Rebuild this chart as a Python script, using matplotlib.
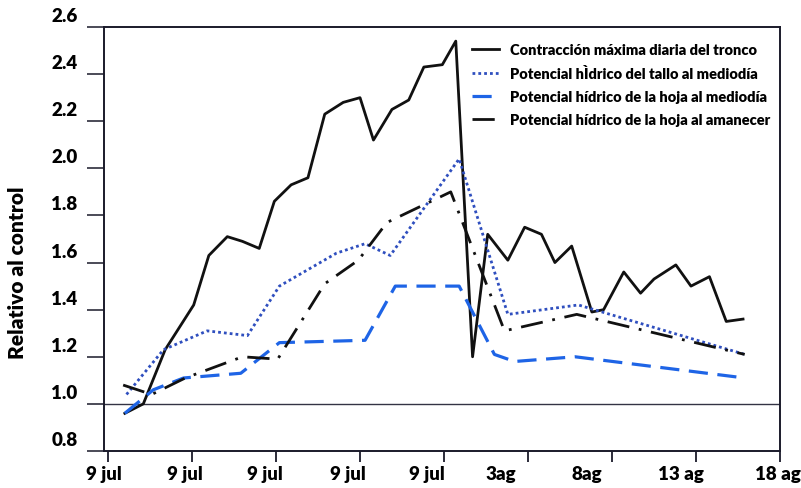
import matplotlib
matplotlib.use("Agg")
from matplotlib import pyplot as plt
from matplotlib.transforms import ScaledTranslation

# días contados desde el 9 de julio
dias_tronco = [1.0, 2.1, 3.4, 5.1, 6.0, 7.1, 8.0, 9.0, 9.9, 10.9, 11.9, 12.9, 14.0, 15.0, 15.8,
               16.9, 17.9, 18.8, 19.9, 20.7, 21.7, 22.6, 23.8, 24.8, 25.8, 26.6, 27.6, 28.8,
               29.5, 30.7, 31.7, 32.5, 33.8, 34.7, 35.8, 36.8, 37.8]
tronco = [0.96, 1.00, 1.23, 1.42, 1.63, 1.71, 1.69, 1.66, 1.86, 1.93, 1.96, 2.23, 2.28, 2.30, 2.12,
          2.25, 2.29, 2.43, 2.44, 2.54, 1.20, 1.72, 1.61, 1.75, 1.72, 1.60, 1.67, 1.39,
          1.40, 1.56, 1.47, 1.53, 1.59, 1.50, 1.54, 1.35, 1.36]

dias_tallo = [1.1, 3.3, 5.9, 8.3, 10.2, 13.6, 15.3, 16.8, 20.9, 23.8, 28.0, 37.9]
tallo = [1.04, 1.23, 1.31, 1.29, 1.50, 1.64, 1.68, 1.63, 2.04, 1.38, 1.42, 1.21]

dias_hoja_md = [1.0, 2.7, 4.5, 7.9, 10.2, 15.3, 17.1, 20.9, 23.0, 24.2, 27.8, 37.9]
hoja_md = [0.96, 1.06, 1.11, 1.13, 1.26, 1.27, 1.50, 1.50, 1.21, 1.18, 1.20, 1.11]

dias_hoja_am = [0.9, 2.6, 4.6, 8.0, 10.1, 12.9, 14.9, 16.6, 20.4, 23.6, 27.9, 37.9]
hoja_am = [1.08, 1.04, 1.11, 1.20, 1.19, 1.51, 1.61, 1.77, 1.90, 1.31, 1.38, 1.21]

pos_etiquetas = [-0.24, 4.56, 9.35, 14.26, 19.0, 23.4, 28.5, 34.1, 39.9]
etiquetas_x = ["9 jul", "9 jul", "9 jul", "9 jul", "9 jul", "3ag", "8ag", "13 ag", "18 ag"]
ticks_y = [0.8, 1.0, 1.2, 1.4, 1.6, 1.8, 2.0, 2.2, 2.4, 2.6]

plt.rcParams['font.family'] = ['Lato', 'DejaVu Sans']
PESO = "heavy"

fig = plt.figure(figsize=(8.01, 4.89), dpi=100)
ax = fig.add_axes([104/801, 1-452/489, 676/801, 424/489])

ax.plot(dias_tronco, tronco, color="#111111", lw=2.0, label="Contracción máxima diaria del tronco")
ax.plot(dias_tallo, tallo, color="#2f4fbf", lw=2.0, linestyle=(0, (1, 1.1)),
        label="Potencial hÌdrico del tallo al mediodía")
ax.plot(dias_hoja_md, hoja_md, color="#1e64e6", lw=2.3, linestyle=(0, (6, 3)),
        label="Potencial hídrico de la hoja al mediodía")
ax.plot(dias_hoja_am, hoja_am, color="#111111", lw=2.0, linestyle=(0, (8, 3.5, 1, 3.5)),
        label="Potencial hídrico de la hoja al amanecer")

# línea de referencia del control
ax.axhline(1.0, color="#333344", lw=1.0, zorder=1)

ax.set_xlim(0, 40)
ax.set_ylim(0.8, 2.6)

for s in ax.spines.values():
    s.set_color("#1a1a2a")
    s.set_linewidth(1.4)

ax.set_yticks(ticks_y)
ax.set_yticklabels([f"{v:.1f}" for v in ticks_y], fontsize=13.5, fontweight=PESO)
ax.tick_params(axis="y", direction="out", length=12, width=1.1, color="#1a1a2a", pad=7)
off = ScaledTranslation(0, 13/100, fig.dpi_scale_trans)
for lab in ax.get_yticklabels():
    lab.set_transform(lab.get_transform() + off)

ax.set_xticks(range(0, 41, 5), minor=True)
ax.set_xticks(pos_etiquetas)
ax.set_xticklabels(etiquetas_x, fontsize=13.5, fontweight=PESO)
ax.tick_params(axis="x", which="major", length=0, pad=10)
ax.tick_params(axis="x", which="minor", direction="out", length=8, width=1.3, color="#1a1a2a")

fig.text(18/801, 1-273/489, "Relativo al control", rotation=90, ha="center", va="center",
         fontsize=15, fontweight=PESO)

ax.legend(loc="upper left", bbox_to_anchor=(0.545, 0.962), frameon=False, borderpad=0,
          borderaxespad=0, handlelength=1.8, handletextpad=0.8, labelspacing=0.68,
          prop={"size": 10.5, "weight": PESO})

fig.savefig("out.png", dpi=100)
